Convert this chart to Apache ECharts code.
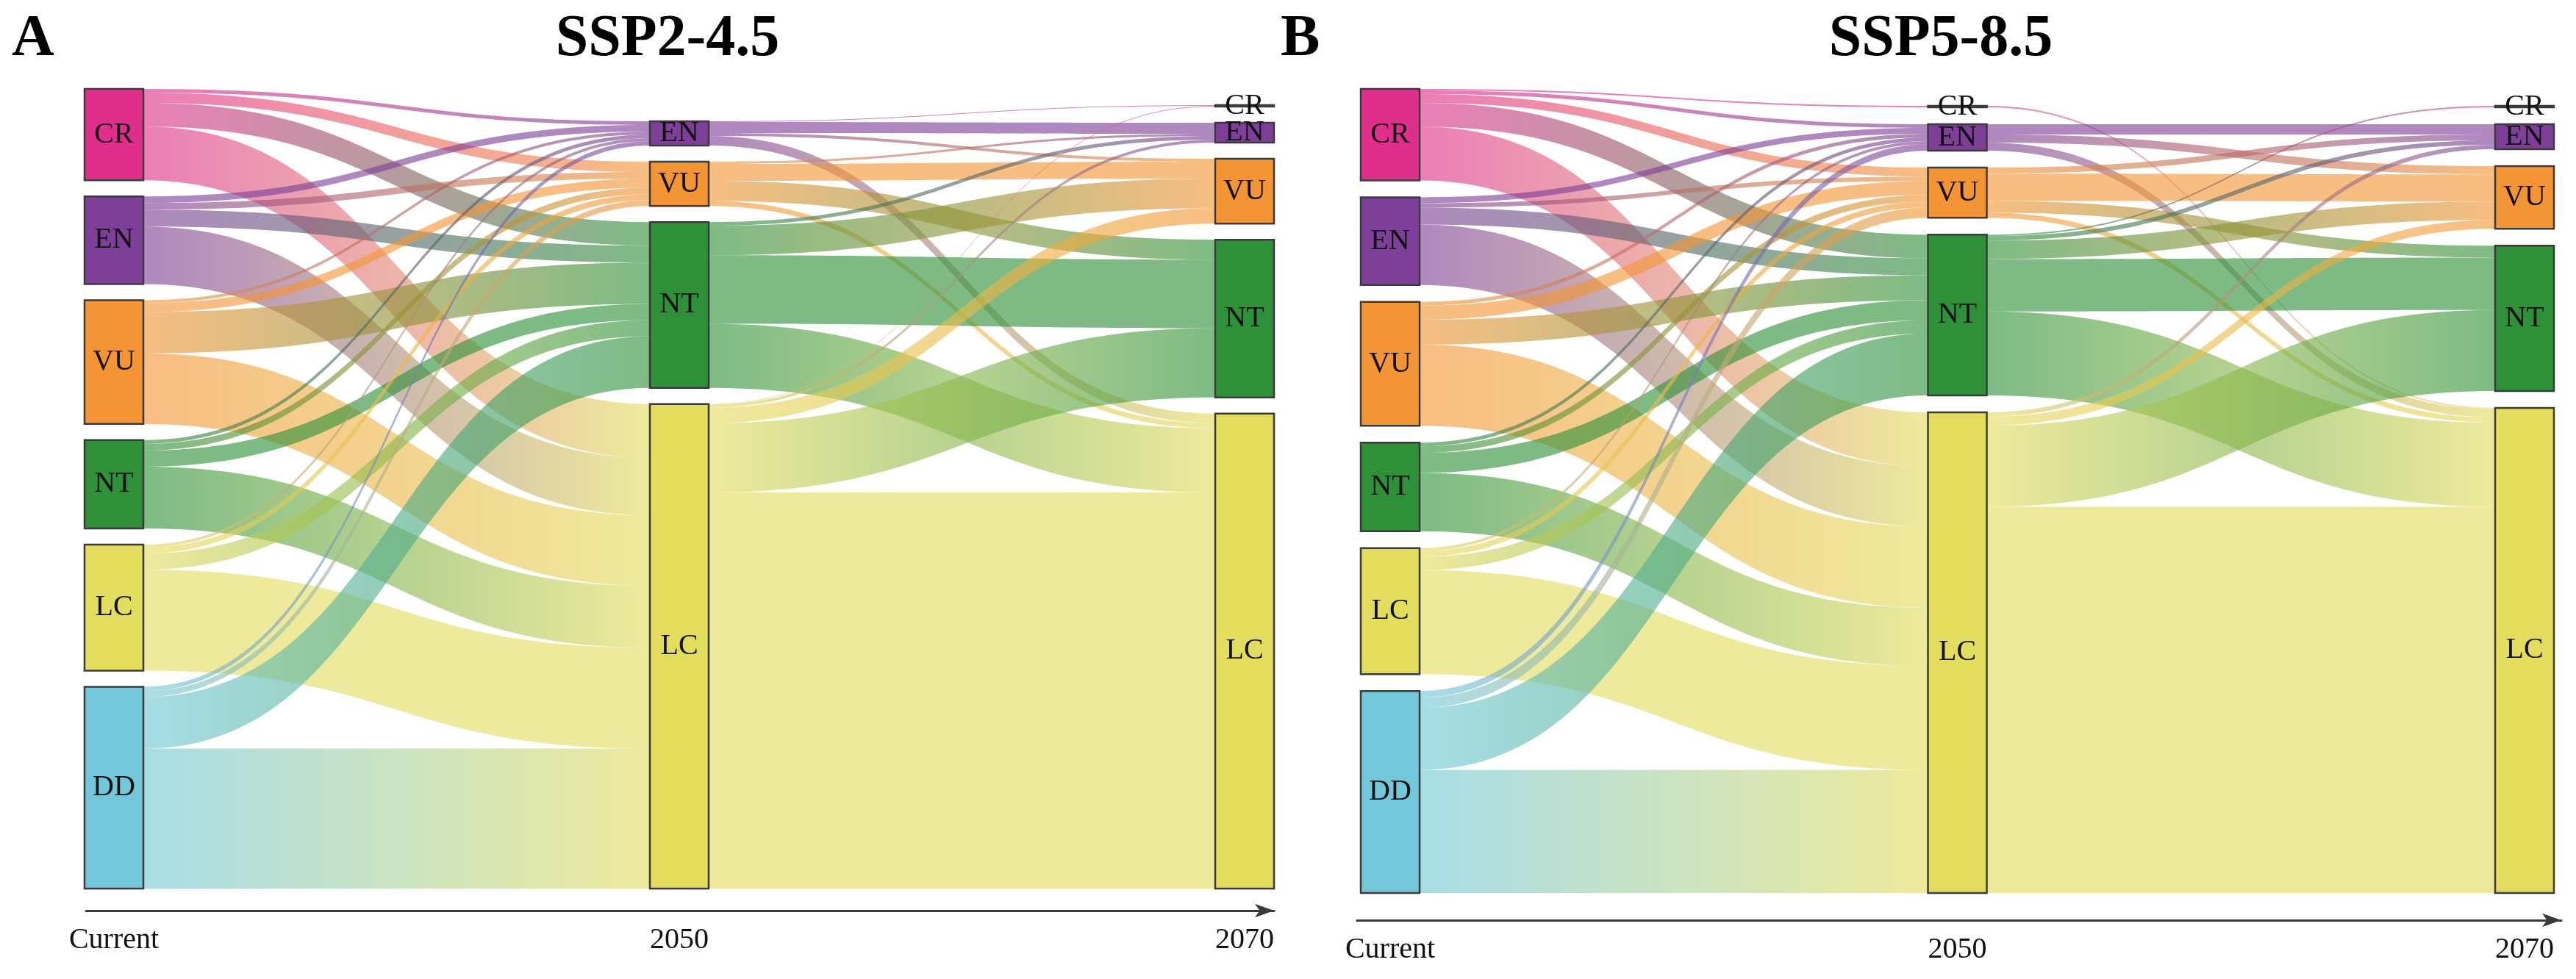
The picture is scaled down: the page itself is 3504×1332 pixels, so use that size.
<!DOCTYPE html>
<html>
<head>
<meta charset="utf-8">
<script src="https://cdn.jsdelivr.net/npm/echarts@6.0.0/dist/echarts.min.js"></script>
<style>
html,body{margin:0;padding:0;background:#ffffff;}
#chart{width:3504px;height:1332px;}
</style>
</head>
<body>
<div id="chart"></div>
<script>
// ---------------- data ----------------
const categories = ['CR', 'EN', 'VU', 'NT', 'LC', 'DD'];
const stageLabels = ['Current', '2050', '2070'];
const panelTitles = ['SSP2-4.5', 'SSP5-8.5'];
const panelLetters = ['A', 'B'];

// SSP2-4.5 : Current -> 2050  [source, target, value]
const ssp245Current2050 = [
  ['CR', 'EN', 5], ['CR', 'VU', 14], ['CR', 'NT', 32], ['CR', 'LC', 73],
  ['EN', 'EN', 9], ['EN', 'VU', 9], ['EN', 'NT', 23], ['EN', 'LC', 78],
  ['VU', 'EN', 4], ['VU', 'VU', 12], ['VU', 'NT', 56], ['VU', 'LC', 96],
  ['NT', 'EN', 5], ['NT', 'VU', 9], ['NT', 'NT', 22], ['NT', 'LC', 84],
  ['LC', 'EN', 4], ['LC', 'VU', 8], ['LC', 'NT', 22], ['LC', 'LC', 137],
  ['DD', 'EN', 6], ['DD', 'VU', 8], ['DD', 'NT', 70], ['DD', 'LC', 190]
];
// SSP2-4.5 : 2050 -> 2070
const ssp245From2050To2070 = [
  ['EN', 'CR', 1], ['EN', 'EN', 15], ['EN', 'VU', 4], ['EN', 'LC', 13],
  ['VU', 'EN', 3], ['VU', 'VU', 23], ['VU', 'NT', 27], ['VU', 'LC', 7],
  ['NT', 'EN', 5], ['NT', 'VU', 40], ['NT', 'NT', 93], ['NT', 'LC', 87],
  ['LC', 'CR', 1], ['LC', 'EN', 4], ['LC', 'VU', 21], ['LC', 'NT', 94], ['LC', 'LC', 538]
];
// SSP5-8.5 : Current -> 2050
const ssp585Current2050 = [
  ['CR', 'CR', 2], ['CR', 'EN', 5], ['CR', 'VU', 12], ['CR', 'NT', 32], ['CR', 'LC', 73],
  ['EN', 'EN', 8], ['EN', 'VU', 6], ['EN', 'NT', 23], ['EN', 'LC', 82],
  ['VU', 'EN', 5], ['VU', 'VU', 19], ['VU', 'NT', 34], ['VU', 'LC', 110],
  ['NT', 'EN', 5], ['NT', 'VU', 9], ['NT', 'NT', 27], ['NT', 'LC', 79],
  ['LC', 'EN', 4], ['LC', 'VU', 8], ['LC', 'NT', 18], ['LC', 'LC', 141],
  ['DD', 'EN', 9], ['DD', 'VU', 14], ['DD', 'NT', 84], ['DD', 'LC', 167]
];
// SSP5-8.5 : 2050 -> 2070
const ssp585From2050To2070 = [
  ['CR', 'LC', 2],
  ['EN', 'EN', 14], ['EN', 'VU', 11], ['EN', 'LC', 11],
  ['VU', 'EN', 8], ['VU', 'VU', 37], ['VU', 'NT', 16], ['VU', 'LC', 7],
  ['NT', 'CR', 2], ['NT', 'EN', 6], ['NT', 'VU', 25], ['NT', 'NT', 71], ['NT', 'LC', 114],
  ['LC', 'EN', 6], ['LC', 'VU', 12], ['LC', 'NT', 110], ['LC', 'LC', 524]
];

// ---------------- styles / layout ----------------
const catColors = {
  CR: '#DF2F8A', EN: '#7D3F97', VU: '#F39534',
  NT: '#2E9139', LC: '#E3DD5E', DD: '#72C8D8'
};
const serif = '"Liberation Serif", "DejaVu Serif", serif';
const NODE_W = 80;
const panels = [
  { flows: [ssp245Current2050, ssp245From2050To2070],
    left: 115, top: 121, width: 1618, height: 1088, gap: 22,
    axisY: 1239, axisFrom: 117, axisTo: 1733, titleX: 908, letterX: 16 },
  { flows: [ssp585Current2050, ssp585From2050To2070],
    left: 1851, top: 121, width: 1623, height: 1094, gap: 23,
    axisY: 1252, axisFrom: 1846, axisTo: 3484, titleX: 2640, letterX: 1742 }
];

function nodeName(cat, stage) { return cat + ' ' + stage; }

function buildSankey(p) {
  const present = stageLabels.map(() => new Set());
  p.flows.forEach((fl, k) => fl.forEach(([s, t]) => {
    present[k].add(s); present[k + 1].add(t);
  }));
  const total = p.flows[0].reduce((a, r) => a + r[2], 0);
  const n0 = categories.filter(c => present[0].has(c)).length;
  const ky = (p.height - (n0 - 1) * p.gap) / total;
  const nodes = [];
  stageLabels.forEach((st, k) => {
    const cats = categories.filter(c => present[k].has(c));
    // invisible spacer so that every column is bottom-aligned like the original
    if (k > 0 && cats.length < n0) {
      nodes.push({
        name: 'spacer ' + st, depth: k,
        value: Math.max(0, (n0 - 1 - cats.length) * p.gap / ky * 0.9999),
        itemStyle: { color: 'rgba(0,0,0,0)', borderWidth: 0 },
        label: { show: false }
      });
    }
    cats.forEach(c => nodes.push({
      name: nodeName(c, st), depth: k,
      itemStyle: { color: catColors[c] }
    }));
  });
  const links = [];
  p.flows.forEach((fl, k) => fl.forEach(([s, t, v]) => links.push({
    source: nodeName(s, stageLabels[k]),
    target: nodeName(t, stageLabels[k + 1]),
    value: v
  })));
  return {
    type: 'sankey',
    left: p.left, top: p.top, width: p.width, height: p.height,
    nodeWidth: NODE_W, nodeGap: p.gap,
    layoutIterations: 0, nodeAlign: 'left', draggable: false,
    silent: true,
    emphasis: { disabled: true },
    label: {
      show: true, position: 'inside', color: '#111',
      fontFamily: serif, fontSize: 40,
      formatter: prm => prm.name.split(' ')[0]
    },
    itemStyle: { borderColor: '#3b3b3b', borderWidth: 2.5 },
    lineStyle: { color: 'gradient', opacity: 0.62, curveness: 0.5 },
    data: nodes,
    links: links
  };
}

const option = {
  backgroundColor: '#ffffff',
  animation: false,
  grid: panels.map(p => ({
    left: p.axisFrom, width: p.axisTo - p.axisFrom,
    top: p.axisY - 10, height: 10,
    containLabel: false, outerBoundsMode: 'none'
  })),
  xAxis: panels.map((p, i) => {
    const c0 = p.left + NODE_W / 2;
    const step = (p.width - NODE_W) / (stageLabels.length - 1);
    return {
      type: 'value', gridIndex: i,
      min: (p.axisFrom - c0) / step, max: (p.axisTo - c0) / step,
      splitNumber: 4,
      splitLine: { show: false }, axisTick: { show: false },
      axisLine: {
        show: true, onZero: false,
        symbol: ['none', 'arrow'], symbolSize: [14, 26],
        lineStyle: { color: '#3a3a3a', width: 3 }
      },
      axisLabel: {
        margin: 20, color: '#111', fontFamily: serif, fontSize: 40,
        showMinLabel: false, showMaxLabel: false,
        formatter: v => {
          const r = Math.round(v);
          return (Math.abs(v - r) < 1e-6 && stageLabels[Math.abs(r)] !== undefined && r >= 0) ? stageLabels[Math.abs(r)] : '';
        }
      }
    };
  }),
  yAxis: panels.map((p, i) => ({ type: 'value', gridIndex: i, show: false })),
  graphic: [].concat(
    panels.map((p, i) => ({
      type: 'text', x: p.letterX, y: 54,
      style: { text: panelLetters[i], font: 'bold 80px ' + serif, fill: '#000',
               textAlign: 'left', textVerticalAlign: 'middle' }
    })),
    panels.map((p, i) => ({
      type: 'text', x: p.titleX, y: 54,
      style: { text: panelTitles[i], font: 'bold 80px ' + serif, fill: '#000',
               textAlign: 'center', textVerticalAlign: 'middle' }
    }))
  ),
  series: panels.map(buildSankey)
};

const chart = echarts.init(document.getElementById('chart'), null, { renderer: 'canvas' });
chart.setOption(option);
</script>
</body>
</html>
